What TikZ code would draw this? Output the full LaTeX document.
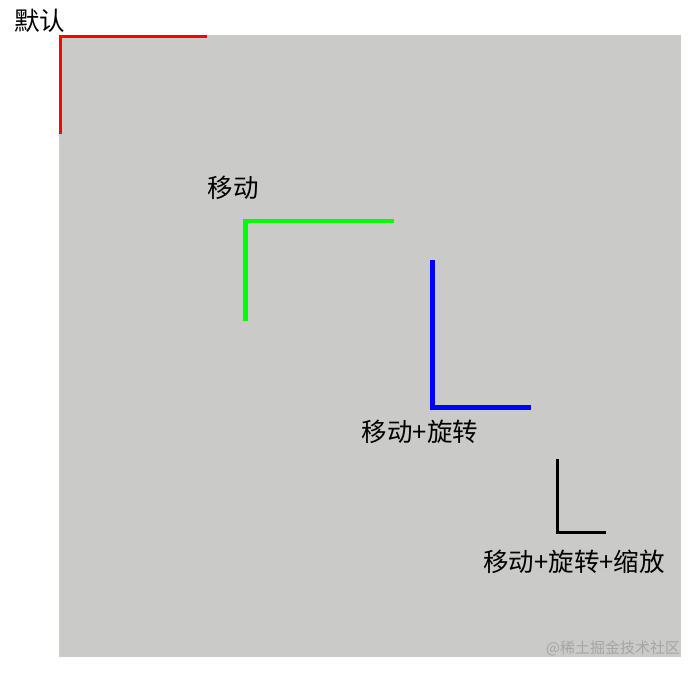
\documentclass[tikz,border=0pt]{standalone}
\usepackage{fontspec}
\newfontfamily\cjk{Noto Sans CJK SC}
\definecolor{panel}{RGB}{202,202,200}
\definecolor{mark}{RGB}{165,165,165}
\tikzset{
  lbl/.style={font=\cjk\fontsize{25.5}{28}\selectfont, inner sep=0pt, text=black},
  wm/.style={font=\cjk\fontsize{15}{17}\selectfont, inner sep=0pt, text=mark},
  axis/.style={line cap=butt, line join=miter}
}
\begin{document}
\begin{tikzpicture}[x=1pt,y=-1pt]
\useasboundingbox (0,0) rectangle (698,676);
\fill[white] (0,0) rectangle (698,676);
\fill[panel] (59,35) rectangle (681,657);
% default
\draw[axis, red, line width=3pt] (60,134) -- (60,36.5) -- (207,36.5);
\node[lbl] (t1) at (39.5,21) {默认};
% move
\draw[axis, green, line width=4.5pt] (245.5,321) -- (245.5,221) -- (394,221);
\node[lbl] (t2) at (233,188) {移动};
% move + rotate
\draw[axis, blue, line width=5pt] (432.5,260) -- (432.5,407.5) -- (531,407.5);
\node[lbl] (t3) at (420,432) {移动+旋转};
% move + rotate + scale
\draw[axis, black, line width=2.5pt] (557.5,459) -- (557.5,532.5) -- (606,532.5);
\node[lbl] (t4) at (574,562) {移动+旋转+缩放};
\node[wm] (wm) at (613,648) {@稀土掘金技术社区};
\end{tikzpicture}
\end{document}
